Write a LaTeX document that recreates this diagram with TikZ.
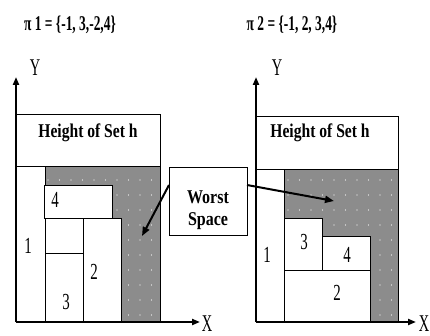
\documentclass[tikz,border=0pt]{standalone}
\usepackage{fontspec}
\usepackage{graphicx}
\setmainfont{Liberation Serif}
\usetikzlibrary{arrows.meta}
\definecolor{wsgray}{RGB}{140,140,140}
\newcommand{\sq}[2][0.75]{\scalebox{#1}[1]{#2}}
\tikzset{
  box/.style={draw=black, line width=0.8pt, fill=white, anchor=north west, inner sep=0pt, outer sep=0pt},
  axis/.style={line width=2.2pt, -{Triangle[length=8pt,width=6pt]}},
  pointer/.style={line width=2pt, -{Triangle[length=9pt,width=7pt]}},
  lbl/.style={font=\fontsize{23}{23}\selectfont, inner sep=0pt},
  axlbl/.style={font=\fontsize{24}{24}\selectfont, inner sep=0pt},
  bold/.style={font=\fontsize{19.5}{20}\selectfont\bfseries, inner sep=0pt, align=center},
  title/.style={font=\fontsize{21}{21}\selectfont\bfseries, inner sep=0pt}
}
\begin{document}
\begin{tikzpicture}[x=1pt,y=-1pt]
\useasboundingbox (0,0) rectangle (430,336);
% ---------- Titles
\node[title] (t1) at (70,25) {\sq[0.64]{π 1 = \{-1, 3,-2,4\}}};
\node[title] (t2) at (292,25) {\sq[0.64]{π 2 = \{-1, 2, 3,4\}}};
% ---------- Left diagram
\fill[wsgray] (45,166) rectangle (160,322);
\foreach \yy in {180,195,...,320} {
  \foreach \xx in {48,59.5,...,158} {
    \fill[white] (\xx,\yy) circle (0.6pt);
  }
}
\node[box, minimum width=144pt, minimum height=52pt] (hL) at (16,114) {};
\node[bold] (hLt) at (88,133) {\sq[0.8]{Height of Set h}};
\draw[line width=0.8pt] (16,114) rectangle (160,322);
\node[box, minimum width=29pt, minimum height=156pt] (L1) at (16,166) {};
\node[box, minimum width=38pt, minimum height=35pt] (LA) at (45,218) {};
\node[box, minimum width=38pt, minimum height=69pt] (L3) at (45,253) {};
\node[box, minimum width=38pt, minimum height=104pt] (L2) at (83,218) {};
\node[box, minimum width=68pt, minimum height=33pt] (L4) at (44,185) {};
\node[lbl] at (28,246) {\sq[0.65]{1}};
\node[lbl] at (94,272) {\sq[0.65]{2}};
\node[lbl] at (66,302) {\sq[0.65]{3}};
\node[lbl] at (55,200) {\sq[0.65]{4}};
% ---------- Right diagram
\fill[wsgray] (284,169) rectangle (398,322);
\foreach \yy in {180,195,...,320} {
  \foreach \xx in {288,299.5,...,396} {
    \fill[white] (\xx,\yy) circle (0.6pt);
  }
}
\node[box, minimum width=142pt, minimum height=53pt] (hR) at (256,116) {};
\node[bold] (hRt) at (320,133) {\sq[0.8]{Height of Set h}};
\draw[line width=0.8pt] (256,116) rectangle (398,322);
\node[box, minimum width=28pt, minimum height=153pt] (R1) at (256,169) {};
\node[box, minimum width=38pt, minimum height=52pt] (R3) at (284,218) {};
\node[box, minimum width=48pt, minimum height=34pt] (R4) at (322,236) {};
\node[box, minimum width=86pt, minimum height=52pt] (R2) at (284,270) {};
\node[lbl] at (267,255) {\sq[0.65]{1}};
\node[lbl] at (337,293) {\sq[0.65]{2}};
\node[lbl] at (304,242) {\sq[0.65]{3}};
\node[lbl] at (347,255) {\sq[0.65]{4}};
% ---------- Axes
\coordinate (oL) at (16,322);
\coordinate (yL) at (16,77);
\coordinate (xL) at (200,322);
\coordinate (oR) at (256,322);
\coordinate (yR) at (256,77);
\coordinate (xR) at (416,322);
\draw[axis] (oL) -- (yL);
\draw[axis] (oL) -- (xL);
\draw[axis] (oR) -- (yR);
\draw[axis] (oR) -- (xR);
\node[axlbl] (YL) at (35,68) {\sq[0.6]{Y}};
\node[axlbl] (XL) at (207,324) {\sq[0.6]{X}};
\node[axlbl] (YR) at (277,68) {\sq[0.6]{Y}};
\node[axlbl] (XR) at (424,324) {\sq[0.6]{X}};
% ---------- Worst Space
\node[box, minimum width=78pt, minimum height=68pt] (ws) at (169,167) {};
\node[bold] (wst) at (208,210) {\sq[0.82]{Worst}\\[2pt]\sq[0.82]{Space}};
\coordinate (pL) at (142,236);
\coordinate (pR) at (334,201);
\draw[pointer] ([yshift=-18pt]ws.north west) -- (pL);
\draw[pointer] ([yshift=-18pt]ws.north east) -- (pR);
\end{tikzpicture}
\end{document}
